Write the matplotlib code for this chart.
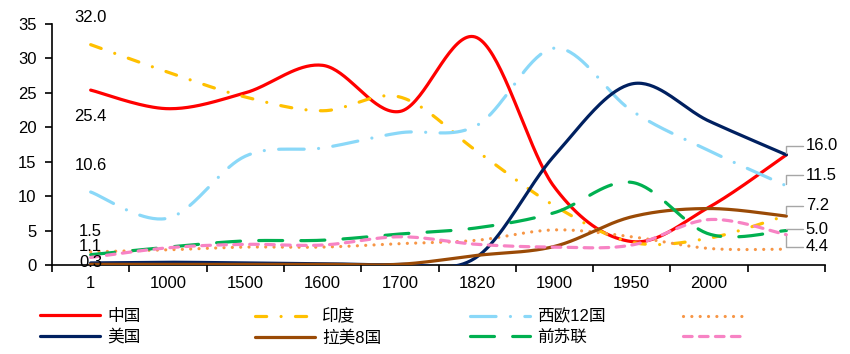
import numpy as np
import matplotlib.pyplot as plt
from matplotlib.transforms import Bbox, TransformedBbox

plt.rcParams['font.family'] = ['Liberation Sans', 'Noto Sans CJK SC']
plt.rcParams['font.size'] = 12

# share of world GDP (%)
years = ['1', '1000', '1500', '1600', '1700', '1820', '1900', '1950', '2000', '']
china = [25.4, 22.7, 25.0, 29.0, 22.3, 33.0, 11.3, 3.4, 8.4, 16.0]
india = [32.0, 28.0, 24.4, 22.4, 24.4, 16.5, 8.6, 3.3, 3.9, 7.2]
weu12 = [10.6, 6.8, 15.8, 17.0, 19.2, 20.3, 31.5, 22.4, 16.6, 11.5]
germany = [1.9, 2.2, 2.6, 2.6, 3.1, 3.6, 5.1, 4.1, 2.4, 2.3]
usa = [0.3, 0.4, 0.3, 0.2, 0.1, 1.2, 15.9, 26.3, 20.9, 16.0]
latam8 = [0.1, 0.1, 0.1, 0.1, 0.1, 1.4, 2.7, 7.0, 8.2, 7.1]
ussr = [1.5, 2.6, 3.5, 3.6, 4.5, 5.4, 7.6, 12.0, 4.5, 5.0]
japan = [1.1, 2.5, 3.0, 2.9, 4.1, 3.0, 2.6, 2.9, 6.6, 4.4]


def smooth(y, n=40):
    # excel-like smoothed line (bezier through the points)
    p = np.column_stack([np.arange(len(y)), y]).astype(float)
    p = np.vstack([p[0], p, p[-1]])
    t = np.linspace(0, 1, n)[:, None]
    out = []
    for i in range(1, len(p) - 2):
        p0, p1, p2, p3 = p[i-1], p[i], p[i+1], p[i+2]
        c1 = p1 + (p2 - p0) / 6
        c2 = p2 - (p3 - p1) / 6
        out.append((1-t)**3*p1 + 3*(1-t)**2*t*c1 + 3*(1-t)*t**2*c2 + t**3*p2)
    out = np.vstack(out)
    return out[:, 0], out[:, 1]


fig = plt.figure(figsize=(8.5, 3.54), dpi=100)
ax = fig.add_axes([0.0612, 0.2514, 0.9094, 0.6808])

lw = 2.3
series = [
    ('中国', china, '#FF0000', '-'),
    ('印度', india, '#FFC000', (0, (3.5, 4.5, 0.01, 4.5))),
    ('西欧12国', weu12, '#8AD8F8', (0, (8, 4.5, 0.01, 4.5))),
    ('德国', germany, '#F79646', (0, (0.01, 2.6))),
    ('美国', usa, '#002060', '-'),
    ('拉美8国', latam8, '#9A4A06', '-'),
    ('前苏联', ussr, '#00B050', (0, (7.5, 5.7))),
    ('日本', japan, '#F783C4', (0, (2.7, 2.3))),
]
lines = {}
for k, (name, vals, col, ls) in enumerate(series):
    xs, ys = smooth(vals)
    ln, = ax.plot(xs, ys, color=col, lw=lw, linestyle=ls, label=name,
                  dash_capstyle='round', solid_capstyle='round', zorder=3 + k)
    lines[name] = ln

ax.set_xlim(-0.5, len(years) - 0.5)
ax.set_ylim(0, 35)
ax.set_yticks(np.arange(0, 36, 5))
ax.set_xticks(np.arange(-0.5, len(years)), [''] * (len(years) + 1))
ax.set_xticks(np.arange(len(years)), years, minor=True)
ax.tick_params(axis='x', which='major', direction='out', length=5, width=1.2)
ax.tick_params(axis='x', which='minor', length=0, pad=8)
ax.tick_params(axis='y', direction='out', length=5, width=1.2, pad=6)
for s in ['top', 'right']:
    ax.spines[s].set_visible(False)
for s in ['left', 'bottom']:
    ax.spines[s].set_linewidth(1.2)

# labels at the start of the lines
start_labels = [(india, 19.4), (china, -18.7), (weu12, 19.4), (ussr, 17), (japan, 8), (usa, 0)]
for vals, dy in start_labels:
    ax.annotate('%.1f' % vals[0], (0, vals[0]), xytext=(0, dy), textcoords='offset points',
                ha='center', va='center', zorder=20)

# labels at the end with grey leader lines
end_labels = [(usa, 6.5), (weu12, 7.5), (india, 7), (ussr, 1), (japan, -8.6)]
last = len(years) - 1
for vals, dy in end_labels:
    ax.annotate('%.1f' % vals[-1], (last, vals[-1]), xytext=(14, dy), textcoords='offset points',
                ha='left', va='center', zorder=20,
                arrowprops=dict(arrowstyle='-', color='#A6A6A6', lw=1, shrinkA=0, shrinkB=1,
                                connectionstyle='angle,angleA=0,angleB=90,rad=0'))

# legend, four columns
columns = [['中国', '美国'], ['印度', '拉美8国'], ['西欧12国', '前苏联'], ['德国', '日本']]
col_x = [40, 255, 470, 683]
for names, x in zip(columns, col_x):
    leg = fig.legend([lines[n] for n in names], names, loc='upper left',
                     bbox_to_anchor=(x / 850, 1 - 309 / 354), frameon=False,
                     handlelength=3.6, handletextpad=0.42, labelspacing=0.3,
                     borderpad=0, borderaxespad=0, fontsize=12)
    if x == 683:
        clip = TransformedBbox(Bbox.from_extents(0, 0, 746 / 850, 1), fig.transFigure)
        for t in leg.get_texts():
            t.set_clip_box(clip)
            t.set_clip_on(True)

fig.savefig('out.png', dpi=100)
